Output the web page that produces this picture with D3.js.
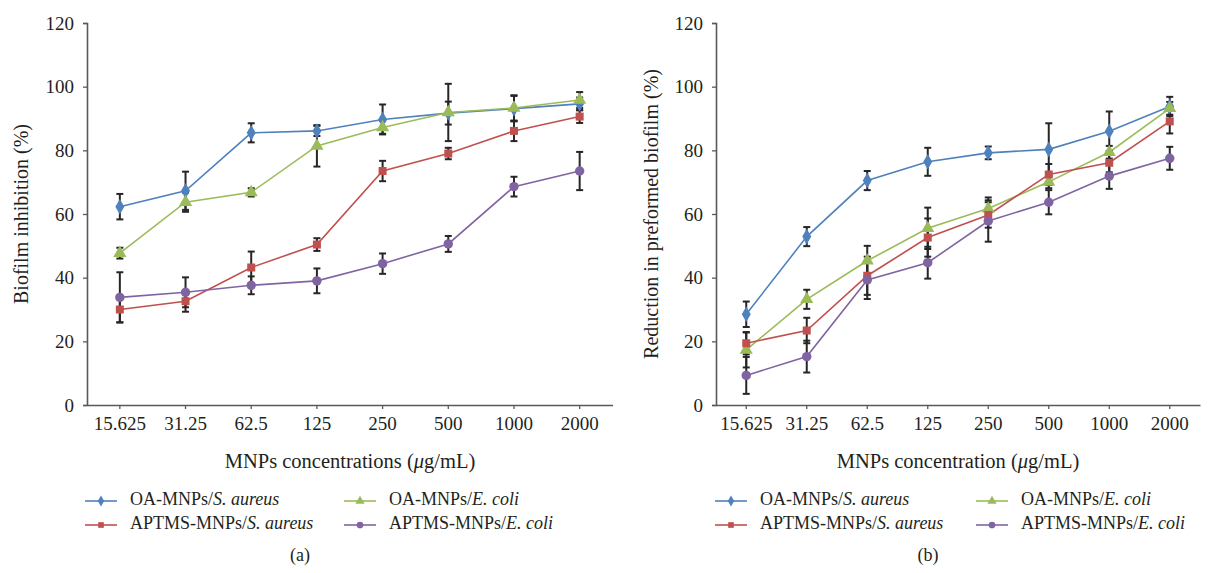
<!DOCTYPE html>
<html>
<head>
<meta charset="utf-8">
<script src="https://cdn.jsdelivr.net/npm/d3@7"></script>
<style>
  body { margin: 0; background: #fff; }
  svg text { font-family: "Liberation Serif", "DejaVu Serif", serif; fill: #231f20; }
</style>
</head>
<body>
<div id="chart"></div>
<script>
// concentrations on the x axis (ug/mL)
const categories = ["15.625", "31.25", "62.5", "125", "250", "500", "1000", "2000"];
const yTicks = [0, 20, 40, 60, 80, 100, 120];

// (a) biofilm inhibition (%)
const inhOA_SA = [62.3, 67.3, 85.5, 86.1, 89.7, 91.7, 93.1, 94.6];
const inhOA_SA_err = [4, 6, 3, 1.6, 4.7, 3.6, 4, 2];
const inhOA_EC = [47.7, 63.7, 66.8, 81.4, 87.2, 91.9, 93.3, 95.8];
const inhOA_EC_err = [1.7, 3, 1.3, 6.5, 2, 9, 4, 2.5];
const inhAP_SA = [30.0, 32.6, 43.2, 50.4, 73.5, 79.0, 86.1, 90.6];
const inhAP_SA_err = [4, 3.3, 5, 2, 3.2, 1.8, 3.2, 2];
const inhAP_EC = [33.8, 35.4, 37.6, 39.0, 44.4, 50.6, 68.6, 73.5];
const inhAP_EC_err = [7.9, 4.7, 2.8, 3.9, 3.2, 2.5, 3.1, 6];

// (b) reduction in preformed biofilm (%)
const redOA_SA = [28.5, 52.9, 70.5, 76.4, 79.2, 80.3, 86.0, 93.8];
const redOA_SA_err = [4, 3, 3, 4.4, 2, 8.2, 6.2, 3];
const redOA_EC = [17.3, 33.2, 45.3, 55.5, 61.7, 70.1, 79.4, 93.2];
const redOA_EC_err = [5.5, 3, 4.7, 6.5, 3.5, 2, 2, 2];
const redAP_SA = [19.4, 23.4, 40.6, 52.6, 59.7, 72.4, 76.1, 89.1];
const redAP_SA_err = [3.5, 4, 6, 6, 4, 3.3, 3, 3.8];
const redAP_EC = [9.3, 15.2, 39.3, 44.7, 57.8, 63.7, 71.9, 77.5];
const redAP_EC_err = [5.8, 5, 6, 5, 6.5, 3.8, 4, 3.6];

const seriesInfo = [
  {pre: "OA-MNPs/", it: "S. aureus", color: "#4f81bd", shape: d3.symbolDiamond, size: 70},
  {pre: "OA-MNPs/", it: "E. coli", color: "#9bbb59", shape: d3.symbolTriangle, size: 75},
  {pre: "APTMS-MNPs/", it: "S. aureus", color: "#c0504d", shape: d3.symbolSquare, size: 64},
  {pre: "APTMS-MNPs/", it: "E. coli", color: "#8064a2", shape: d3.symbolCircle, size: 70}
];

const W = 1226, H = 573;
const svg = d3.select("#chart").append("svg").attr("width", W).attr("height", H);

function drawPanel(cfg) {
  const x = d3.scaleBand().domain(categories).range([cfg.left, cfg.right]);
  const y = d3.scaleLinear().domain([0, 120]).range([405, 23]);
  const g = svg.append("g");
  const cx = d => x(d) + x.bandwidth() / 2;

  // axes
  const yAxis = g.append("g").attr("transform", `translate(${cfg.left},0)`)
    .call(d3.axisLeft(y).tickValues(yTicks).tickSize(4).tickPadding(9));
  const xAxis = g.append("g").attr("transform", "translate(0,405)")
    .call(d3.axisBottom(x).tickSize(4).tickSizeOuter(0).tickPadding(8));
  [yAxis, xAxis].forEach(a => {
    a.select(".domain").attr("stroke", "#595959").attr("stroke-width", 1.6);
    a.selectAll(".tick line").attr("stroke", "#595959").attr("stroke-width", 1.3);
    a.selectAll("text").attr("font-size", 19).style("font-family", '"Liberation Serif", serif').attr("fill", "#231f20");
  });

  // axis titles
  g.append("text").attr("transform", `translate(${cfg.ytitleX},214) rotate(-90)`)
    .attr("text-anchor", "middle").attr("dominant-baseline", "middle")
    .attr("font-size", 20).text(cfg.ytitle);
  const xt = g.append("text").attr("x", cfg.xtitleX).attr("y", 468)
    .attr("text-anchor", "middle").attr("font-size", 20.5);
  xt.append("tspan").text(cfg.xtitle + " (");
  xt.append("tspan").attr("font-style", "italic").text("μ");
  xt.append("tspan").text("g/mL)");

  const line = d3.line().x((d, i) => cx(categories[i])).y(d => y(d));

  // lines first, then error bars, then markers
  cfg.series.forEach((s, k) => {
    g.append("path").datum(s.v).attr("d", line).attr("fill", "none")
      .attr("stroke", seriesInfo[k].color).attr("stroke-width", 1.6);
  });
  cfg.series.forEach((s, k) => {
    const eb = g.append("g").attr("stroke", "#262626").attr("stroke-width", 2);
    s.v.forEach((v, i) => {
      const px = cx(categories[i]);
      eb.append("line").attr("x1", px).attr("x2", px).attr("y1", y(v - s.e[i])).attr("y2", y(v + s.e[i]));
      [v - s.e[i], v + s.e[i]].forEach(t => {
        eb.append("line").attr("x1", px - 3.5).attr("x2", px + 3.5).attr("y1", y(t)).attr("y2", y(t));
      });
    });
  });
  cfg.series.forEach((s, k) => {
    const info = seriesInfo[k];
    g.append("g").selectAll("path").data(s.v).join("path")
      .attr("transform", (d, i) => `translate(${cx(categories[i])},${y(d)})`)
      .attr("d", d3.symbol().type(info.shape).size(info.size))
      .attr("fill", info.color);
  });

  // legend: 2 columns x 2 rows
  seriesInfo.forEach((info, j) => {
    const col = j % 2, row = Math.floor(j / 2);
    const lx = cfg.legX[col], ly = 501 + row * 24;
    const lg = g.append("g");
    lg.append("line").attr("x1", lx).attr("x2", lx + 32).attr("y1", ly).attr("y2", ly)
      .attr("stroke", info.color).attr("stroke-width", 1.6);
    lg.append("path").attr("transform", `translate(${lx + 16},${ly})`)
      .attr("d", d3.symbol().type(info.shape).size(info.size * 0.5)).attr("fill", info.color);
    const t = lg.append("text").attr("x", lx + 45).attr("y", ly).attr("dominant-baseline", "middle")
      .attr("font-size", 18);
    t.append("tspan").text(info.pre);
    t.append("tspan").attr("font-style", "italic").text(info.it);
  });

  g.append("text").attr("x", cfg.tagX).attr("y", 557).attr("text-anchor", "middle")
    .attr("dominant-baseline", "middle").attr("font-size", 18).text(cfg.tag);
}

drawPanel({
  left: 87, right: 612.5,
  ytitle: "Biofilm inhibition (%)", ytitleX: 23,
  xtitle: "MNPs concentrations", xtitleX: 350,
  legX: [85, 344], tag: "(a)", tagX: 300,
  series: [
    {v: inhOA_SA, e: inhOA_SA_err},
    {v: inhOA_EC, e: inhOA_EC_err},
    {v: inhAP_SA, e: inhAP_SA_err},
    {v: inhAP_EC, e: inhAP_EC_err}
  ]
});

drawPanel({
  left: 716, right: 1200,
  ytitle: "Reduction in preformed biofilm (%)", ytitleX: 653,
  xtitle: "MNPs concentration", xtitleX: 958,
  legX: [715, 976], tag: "(b)", tagX: 928,
  series: [
    {v: redOA_SA, e: redOA_SA_err},
    {v: redOA_EC, e: redOA_EC_err},
    {v: redAP_SA, e: redAP_SA_err},
    {v: redAP_EC, e: redAP_EC_err}
  ]
});
</script>
</body>
</html>
